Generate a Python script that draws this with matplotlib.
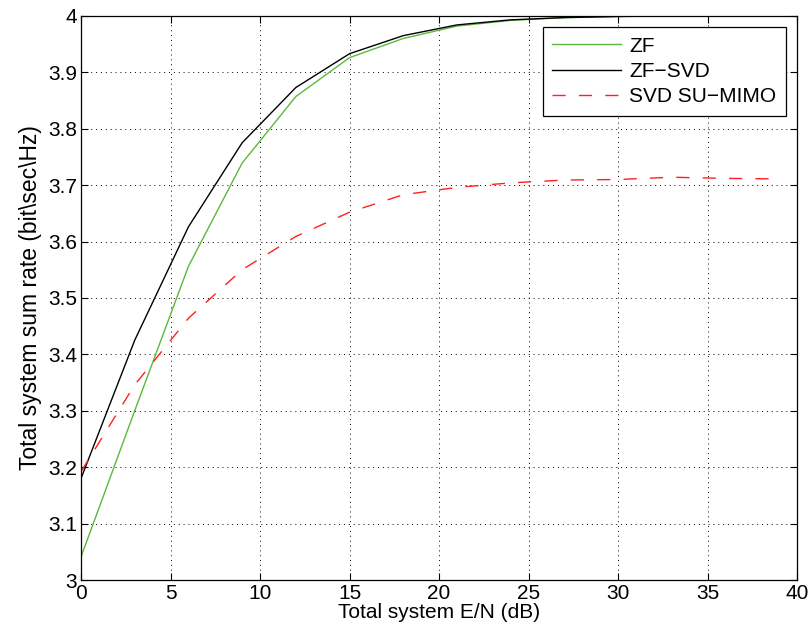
import matplotlib
matplotlib.use("Agg")
import matplotlib.pyplot as plt

x = [0, 3, 6, 9, 12, 15, 18, 21, 24, 27, 30, 33, 36, 39]
zf = [3.041, 3.30, 3.556, 3.739, 3.857, 3.926, 3.960, 3.982, 3.992, 3.997, 3.999, 4.0, 4.0, 4.0]
zf_svd = [3.18, 3.425, 3.626, 3.775, 3.873, 3.933, 3.965, 3.984, 3.993, 3.997, 3.999, 4.0, 4.0, 4.0]
svd_su = [3.192, 3.346, 3.464, 3.55, 3.609, 3.652, 3.683, 3.696, 3.704, 3.709, 3.710, 3.714, 3.712, 3.711]

plt.rcParams['font.family'] = ['Liberation Sans', 'DejaVu Sans']

fig = plt.figure(figsize=(8.1, 6.36), dpi=100)
ax = fig.add_axes([0.1, 0.088, 0.884, 0.887])

ax.plot(x, zf, color='#5cb83c', lw=1.0, label='ZF')
ax.plot(x, zf_svd, color='black', lw=1.0, label='ZF\u2212SVD')
ax.plot(x, svd_su, color='#ff2020', lw=1.0, ls=(0, (9.5, 9.5)), label='SVD SU\u2212MIMO')

ax.set_xlim(0, 40)
ax.set_ylim(3, 4)
ax.set_xticks(range(0, 41, 5))
ax.set_yticks([3 + 0.1 * i for i in range(11)])
ax.set_yticklabels(['3', '3.1', '3.2', '3.3', '3.4', '3.5', '3.6', '3.7', '3.8', '3.9', '4'])
ax.grid(True, color='black', ls=(0, (1, 4)), lw=0.7)
ax.tick_params(direction='in', top=True, right=True, labelsize=15, length=5, pad=3)
for s in ax.spines.values():
    s.set_linewidth(0.9)
ax.set_xlabel('Total system E/N (dB)', fontsize=15, labelpad=0)
ax.set_ylabel('Total system sum rate (bit\\sec\\Hz)', fontsize=16.5, labelpad=4)

leg = ax.legend(loc='upper right', fontsize=15, fancybox=False, framealpha=1,
                edgecolor='black', borderaxespad=0.55, handlelength=3.3,
                handletextpad=0.4, labelspacing=0.3, borderpad=0.45)
leg.get_frame().set_linewidth(0.9)

fig.savefig('out.png', dpi=100)
